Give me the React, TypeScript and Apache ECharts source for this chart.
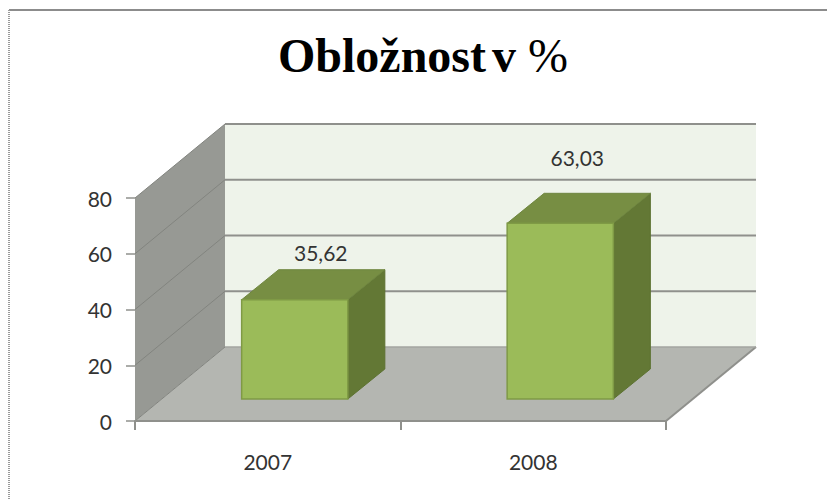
import React, { useEffect, useRef } from "react";
import * as echarts from "echarts";

const categories = ["2007", "2008"];
const values = [35.62, 63.03];
const valueLabels = ["35,62", "63,03"];
const yTicks = [0, 20, 40, 60, 80];

const DX = 90;
const DY = -74;
const BAR_SHIFT_X = 27;
const BAR_SHIFT_Y = -22;
const BAR_DX = 37;
const BAR_DY = -30;
const BAR_W = 0.4;
const LINE = "#8f908c";
const LABEL_OFFSET_X = [26, 17];
const LABEL_OFFSET_Y = [-47, -66];

function poly(points: number[][], fill: string, stroke?: string, lw = 1) {
  return {
    type: "polygon",
    shape: { points },
    style: { fill, stroke: stroke || "none", lineWidth: lw },
  };
}
function seg(x1: number, y1: number, x2: number, y2: number, stroke: string, lw = 1) {
  return {
    type: "line",
    shape: { x1, y1, x2, y2 },
    style: { stroke, lineWidth: lw },
  };
}

export default function App() {
  const ref = useRef<HTMLDivElement>(null);
  useEffect(() => {
    document.body.style.margin = "0";
    const chart = echarts.init(ref.current!, undefined, { renderer: "svg" });

    const renderWalls = (params: any, api: any) => {
      const cs = params.coordSys;
      const l = cs.x;
      const r = cs.x + cs.width;
      const t = cs.y;
      const b = cs.y + cs.height;
      const children: any[] = [
        poly([[l + DX, t + DY], [r + DX, t + DY], [r + DX, b + DY], [l + DX, b + DY]], "#eef3ea"),
        poly([[l, t], [l + DX, t + DY], [l + DX, b + DY], [l, b]], "#979994"),
        poly([[l, b], [l + DX, b + DY], [r + DX, b + DY], [r, b]], "#b4b6b1"),
      ];
      yTicks.forEach((v) => {
        const y = api.coord([0, v])[1];
        children.push(seg(l, y, l + DX, y + DY, "#82847f", 1));
        if (v !== 0) children.push(seg(l + DX, y + DY, r + DX, y + DY, LINE, 2));
      });
      children.push(seg(r, b, r + DX, b + DY, LINE, 2));
      children.push(seg(l + DX, b + DY, r + DX, b + DY, "#a3a5a0", 1.5));
      return { type: "group", children };
    };

    const renderBar = (params: any, api: any) => {
      const idx = api.value(0);
      const val = api.value(1);
      const size = api.size([1, 0])[0];
      const w = size * BAR_W;
      const base = api.coord([idx, 0]);
      const top = api.coord([idx, val]);
      const x0 = base[0] + BAR_SHIFT_X - w / 2;
      const x1 = x0 + w;
      const yb = base[1] + BAR_SHIFT_Y;
      const yt = top[1] + BAR_SHIFT_Y;
      return {
        type: "group",
        children: [
          poly([[x1, yt], [x1 + BAR_DX, yt + BAR_DY], [x1 + BAR_DX, yb + BAR_DY], [x1, yb]], "#637835", "#5d7232"),
          poly([[x0, yt], [x0 + BAR_DX, yt + BAR_DY], [x1 + BAR_DX, yt + BAR_DY], [x1, yt]], "#778e43", "#6f8640"),
          poly([[x0, yt], [x1, yt], [x1, yb], [x0, yb]], "#9bbb59", "#7f9a45", 1.5),
          {
            type: "text",
            style: {
              x: (x0 + x1) / 2 + LABEL_OFFSET_X[params.dataIndex],
              y: yt + LABEL_OFFSET_Y[params.dataIndex],
              text: valueLabels[params.dataIndex],
              fill: "#333333",
              font: "21px Lato",
              align: "center",
              verticalAlign: "middle",
            },
          },
        ],
      };
    };

    const serifBold = { fontFamily: "Liberation Serif", fontWeight: "bold", fontSize: 48, color: "#000000" };

    chart.setOption({
      animation: false,
      backgroundColor: "#ffffff",
      title: {
        text: "{a|Obložnost}{s| }{a|v }{c|%}",
        left: 273,
        top: 23,
        textStyle: {
          ...serifBold,
          rich: {
            a: { ...serifBold, lineHeight: 54 },
            s: { ...serifBold, fontSize: 24, lineHeight: 54 },
            c: { ...serifBold, fontWeight: "normal", lineHeight: 54 },
          },
        },
      },
      grid: { left: 135, right: 161, top: 198, bottom: 79 },
      xAxis: {
        type: "category",
        data: categories,
        axisLine: { lineStyle: { color: LINE, width: 2 } },
        axisTick: { show: true, length: 9, alignWithLabel: false, lineStyle: { color: LINE, width: 2 } },
        axisLabel: { fontFamily: "Lato", fontSize: 21, color: "#333333", margin: 30 },
        z: 5,
      },
      yAxis: {
        type: "value",
        min: 0,
        max: 80,
        interval: 20,
        splitLine: { show: false },
        axisLine: { show: false },
        axisTick: { show: true, length: 9, lineStyle: { color: LINE, width: 1.5 } },
        axisLabel: { fontFamily: "Lato", fontSize: 21, color: "#333333", margin: 23 },
      },
      graphic: [
        { type: "line", shape: { x1: 9, y1: 10, x2: 827, y2: 10 }, style: { stroke: "#8c8c8c", lineWidth: 2 } },
        { type: "line", shape: { x1: 9, y1: 10, x2: 9, y2: 500 }, style: { stroke: "#9a9a9a", lineWidth: 2, lineDash: [1, 1] } },
      ],
      series: [
        {
          type: "custom",
          name: "walls",
          renderItem: renderWalls,
          data: [[0, 0]],
          clip: false,
          silent: true,
          z: 1,
        },
        {
          type: "custom",
          name: "Obložnost",
          renderItem: renderBar,
          data: values.map((v, i) => [i, v]),
          encode: { x: 0, y: 1 },
          clip: false,
          z: 2,
        },
      ],
    });
    return () => chart.dispose();
  }, []);
  return <div ref={ref} style={{ position: "absolute", left: 0, top: 0, width: 827, height: 500 }} />;
}
